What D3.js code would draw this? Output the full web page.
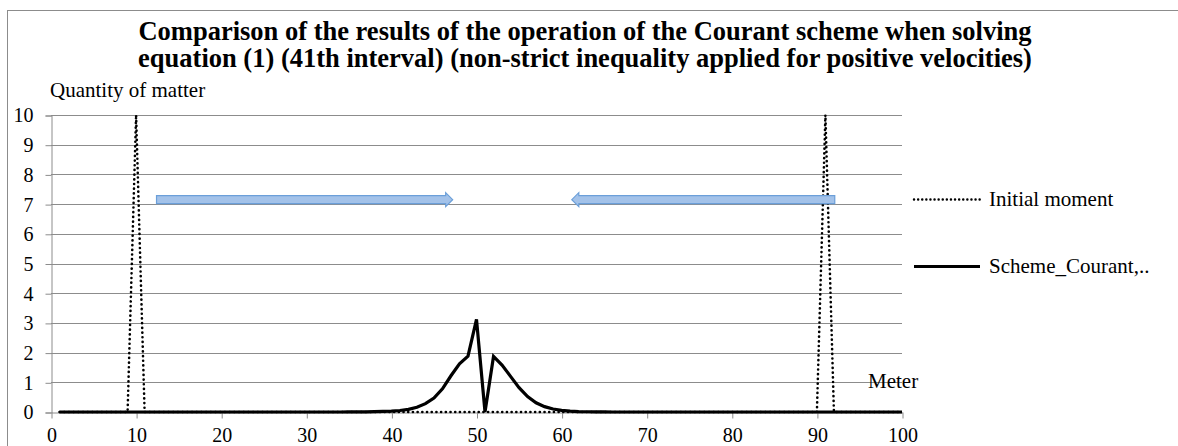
<!DOCTYPE html>
<html>
<head>
<meta charset="utf-8">
<script src="https://cdn.jsdelivr.net/npm/d3@7"></script>
<style>
  body { margin: 0; background: #fff; }
  svg text { font-family: "Liberation Serif", "Times New Roman", serif; }
</style>
</head>
<body>
<script>
// Chart size
const width = 1178;
const height = 446;
const margin = { top: 115, right: 276, bottom: 34, left: 51 };

// Data
const titleLines = [
  "Comparison of the results of the operation of the Courant scheme when solving",
  "equation (1) (41th interval) (non-strict inequality applied for positive velocities)"
];
const xTicks = [0, 10, 20, 30, 40, 50, 60, 70, 80, 90, 100];
const yTicks = [0, 1, 2, 3, 4, 5, 6, 7, 8, 9, 10];
const meters = d3.range(1, 101);

const initialMoment = [
  0, 0, 0, 0, 0, 0, 0, 0, 0, 10,
  0, 0, 0, 0, 0, 0, 0, 0, 0, 0,
  0, 0, 0, 0, 0, 0, 0, 0, 0, 0,
  0, 0, 0, 0, 0, 0, 0, 0, 0, 0,
  0, 0, 0, 0, 0, 0, 0, 0, 0, 0,
  0, 0, 0, 0, 0, 0, 0, 0, 0, 0,
  0, 0, 0, 0, 0, 0, 0, 0, 0, 0,
  0, 0, 0, 0, 0, 0, 0, 0, 0, 0,
  0, 0, 0, 0, 0, 0, 0, 0, 0, 0,
  10, 0, 0, 0, 0, 0, 0, 0, 0, 0
];

const schemeCourant = [
  0, 0, 0, 0, 0, 0, 0, 0, 0, 0,
  0, 0, 0, 0, 0, 0, 0, 0, 0, 0,
  0, 0, 0, 0, 0, 0, 0, 0, 0, 0,
  0, 0, 0, 0, 0.002, 0.004, 0.007, 0.012, 0.02, 0.03,
  0.05, 0.09, 0.16, 0.28, 0.47, 0.78, 1.22, 1.62, 1.88, 3.12,
  0, 1.87, 1.58, 1.2, 0.82, 0.52, 0.31, 0.18, 0.1, 0.055,
  0.03, 0.015, 0.008, 0.004, 0.002, 0, 0, 0, 0, 0,
  0, 0, 0, 0, 0, 0, 0, 0, 0, 0,
  0, 0, 0, 0, 0, 0, 0, 0, 0, 0,
  0, 0, 0, 0, 0, 0, 0, 0, 0, 0
];

// Annotation arrows (data units: from x, to x, at y)
const arrows = [
  { from: 12.4, to: 47.2, y: 7.15 },
  { from: 92.1, to: 61.2, y: 7.15 }
];

const svg = d3.select('body')
  .append('svg')
  .attr('width', width)
  .attr('height', height);

// Outer chart border
svg.append('rect')
  .attr('x', 7.5)
  .attr('y', 10.5)
  .attr('width', width + 10)
  .attr('height', height + 10)
  .attr('fill', 'none')
  .attr('stroke', '#8c8c8c');

const x = d3.scaleLinear()
  .domain([0, 100])
  .range([margin.left, width - margin.right]);

const y = d3.scaleLinear()
  .domain([0, 10])
  .range([height - margin.bottom, margin.top]);

const serif = '"Liberation Serif", "Times New Roman", serif';

// Title
svg.append('text')
  .attr('text-anchor', 'middle')
  .attr('font-weight', 'bold')
  .attr('font-size', '26.5px')
  .attr('font-family', serif)
  .selectAll('tspan')
  .data(titleLines)
  .enter()
  .append('tspan')
  .attr('x', 585)
  .attr('y', (d, i) => 39.5 + i * 27.5)
  .text(d => d);

// Gridlines
svg.append('g')
  .selectAll('line')
  .data(yTicks.slice(1))
  .enter()
  .append('line')
  .attr('x1', x(0))
  .attr('x2', x(100))
  .attr('y1', d => Math.round(y(d)) + 0.5)
  .attr('y2', d => Math.round(y(d)) + 0.5)
  .attr('stroke', '#8c8c8c');

// Y axis
svg.append('g')
  .attr('transform', `translate(${x(0) + 0.5}, 0.5)`)
  .call(d3.axisLeft(y).tickValues(yTicks).tickSize(6).tickPadding(12))
  .call(g => g.attr('font-family', serif).attr('font-size', 20))
  .call(g => g.selectAll('line, path').attr('stroke', '#8c8c8c'))
  .call(g => g.selectAll('text').attr('fill', '#000'));

// X axis
svg.append('g')
  .attr('transform', `translate(0.5, ${y(0) + 0.5})`)
  .call(d3.axisBottom(x).tickValues(xTicks).tickSize(6).tickSizeOuter(0).tickPadding(9))
  .call(g => g.attr('font-family', serif).attr('font-size', 20))
  .call(g => g.selectAll('line, path').attr('stroke', '#8c8c8c'))
  .call(g => g.selectAll('text').attr('fill', '#000'));

// Axis titles
svg.append('text')
  .attr('x', 50)
  .attr('y', 97)
  .attr('font-size', '21px')
  .attr('font-family', serif)
  .text('Quantity of matter');

svg.append('text')
  .attr('x', 868)
  .attr('y', 388)
  .attr('font-size', '21px')
  .attr('font-family', serif)
  .text('Meter');

// Lines
const line = d3.line()
  .x(d => x(d[0]))
  .y(d => y(d[1]));

svg.append('path')
  .datum(meters.map((m, i) => [m, initialMoment[i]]))
  .attr('d', line)
  .attr('fill', 'none')
  .attr('stroke', '#000')
  .attr('stroke-width', 2.6)
  .attr('stroke-linecap', 'round')
  .attr('stroke-dasharray', '0.1 4.6');

svg.append('path')
  .datum(meters.map((m, i) => [m, schemeCourant[i]]))
  .attr('d', line)
  .attr('fill', 'none')
  .attr('stroke', '#000')
  .attr('stroke-width', 3.2)
  .attr('stroke-linejoin', 'miter');

// Arrows
const body = 4, head = 7, headLen = 7;
svg.append('g')
  .selectAll('path')
  .data(arrows)
  .enter()
  .append('path')
  .attr('d', d => {
    const x0 = x(d.from), x1 = x(d.to), cy = y(d.y);
    const dir = x1 > x0 ? 1 : -1;
    const xb = x1 - dir * headLen;
    return `M${x0},${cy - body} L${xb},${cy - body} L${xb},${cy - head} L${x1},${cy} ` +
           `L${xb},${cy + head} L${xb},${cy + body} L${x0},${cy + body} Z`;
  })
  .attr('fill', '#a3c2e9')
  .attr('stroke', '#6b9fd9')
  .attr('stroke-width', 1.2);

// Legend
const legend = [
  { name: 'Initial moment', y: 199.5, dash: '0.1 4', w: 2.4 },
  { name: 'Scheme_Courant,..', y: 266.5, dash: null, w: 3.2 }
];
const lg = svg.append('g')
  .selectAll('g')
  .data(legend)
  .enter()
  .append('g');
lg.append('line')
  .attr('x1', 914)
  .attr('x2', 980)
  .attr('y1', d => d.y)
  .attr('y2', d => d.y)
  .attr('stroke', '#000')
  .attr('stroke-width', d => d.w)
  .attr('stroke-linecap', d => d.dash ? 'round' : 'butt')
  .attr('stroke-dasharray', d => d.dash);
lg.append('text')
  .attr('x', 989)
  .attr('y', d => d.y + 6.5)
  .attr('font-size', '21px')
  .attr('font-family', serif)
  .text(d => d.name);
</script>
</body>
</html>
